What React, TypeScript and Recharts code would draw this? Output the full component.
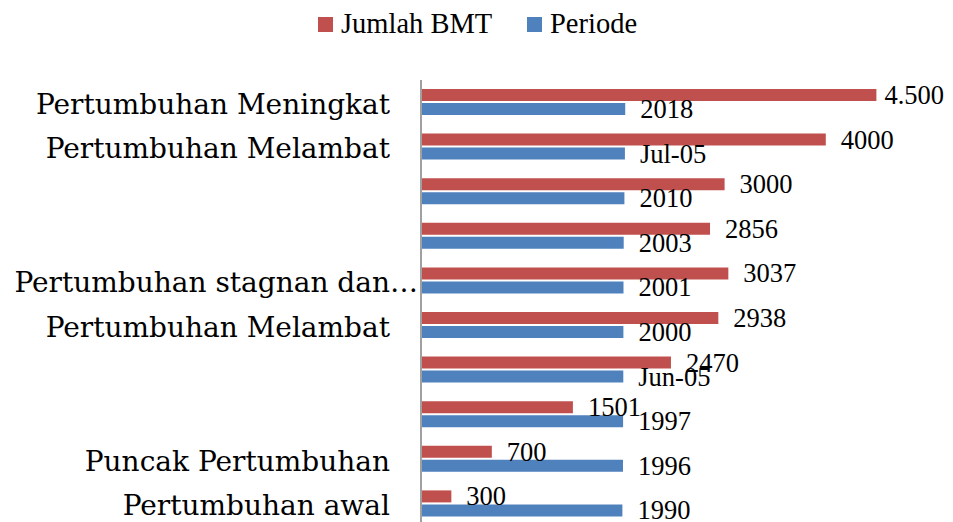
import { BarChart, Bar, XAxis, YAxis, LabelList } from 'recharts';

// rows top to bottom, as they appear in the picture
const categories = [
  'Pertumbuhan Meningkat',
  'Pertumbuhan Melambat',
  '',
  '',
  'Pertumbuhan stagnan dan…',
  'Pertumbuhan Melambat',
  '',
  '',
  'Puncak Pertumbuhan',
  'Pertumbuhan awal',
];

const jumlahBmt = [4500, 4000, 3000, 2856, 3037, 2938, 2470, 1501, 700, 300];
const jumlahBmtLabels = ['4.500', '4000', '3000', '2856', '3037', '2938', '2470', '1501', '700', '300'];

const periode = [2018, 2015, 2010, 2003, 2001, 2000, 1999, 1997, 1996, 1990];
const periodeLabels = ['2018', 'Jul-05', '2010', '2003', '2001', '2000', 'Jun-05', '1997', '1996', '1990'];

const RED = '#C0504D';
const BLUE = '#4F81BD';
const LABEL_FONT = "'Liberation Serif', 'Times New Roman', serif";
const CAT_FONT = "'DejaVu Serif', serif";

const data = categories.map((name, i) => ({
  key: `c${i}`,
  name,
  bmt: jumlahBmt[i],
  periode: periode[i],
}));

const CategoryTick = ({ x, y, payload }: any) => {
  const idx = Number(String(payload.value).slice(1));
  const label = categories[idx];
  if (!label) return null;
  // Excel lets the truncated label run up to the axis
  const tx = label.endsWith('…') ? x - 3 : x - 31;
  return (
    <text
      x={tx}
      y={y + 2}
      textAnchor="end"
      dominantBaseline="central"
      style={{ fontFamily: CAT_FONT, fontSize: 28 }}
      fill="#000"
    >
      {label}
    </text>
  );
};

const valueLabel = (labels: string[]) => (props: any) => {
  const { x, y, width, height, index } = props;
  const text = labels[index];
  let lx = x + width + 15;
  let anchor: 'start' | 'end' = 'start';
  // keep the label inside the chart when it would run past the edge
  if (lx + text.length * 13 > 945) {
    lx = 944;
    anchor = 'end';
  }
  return (
    <text
      x={lx}
      y={y + height / 2}
      textAnchor={anchor}
      dominantBaseline="central"
      style={{ fontFamily: LABEL_FONT, fontSize: 26.5 }}
      fill="#000"
    >
      {text}
    </text>
  );
};

export default function App() {
  return (
    <div
      style={{
        position: 'fixed',
        left: 0,
        top: 0,
        width: 953,
        height: 522,
        overflow: 'hidden',
        background: '#fff',
      }}
    >
      <BarChart
        width={953}
        height={526}
        data={data}
        layout="vertical"
        margin={{ top: 80, right: 26, bottom: 0, left: 0 }}
        barGap={2}
      >
        <XAxis type="number" domain={[0, 5000]} hide />
        <YAxis
          type="category"
          dataKey="key"
          width={421}
          tickLine={false}
          tickSize={0}
          tickMargin={0}
          axisLine={{ stroke: '#A0A0A0', strokeWidth: 2 }}
          tick={<CategoryTick />}
          interval={0}
        />
        <Bar dataKey="bmt" name="Jumlah BMT" fill={RED} barSize={12} isAnimationActive={false}>
          <LabelList dataKey="bmt" content={valueLabel(jumlahBmtLabels)} />
        </Bar>
        <Bar dataKey="periode" name="Periode" fill={BLUE} barSize={12} isAnimationActive={false}>
          <LabelList dataKey="periode" content={valueLabel(periodeLabels)} />
        </Bar>
      </BarChart>

      {/* legend */}
      <svg
        width={953}
        height={50}
        style={{ position: 'absolute', left: 0, top: 0 }}
      >
        <rect x={318} y={17} width={15} height={15} fill={RED} />
        <text x={341} y={33} style={{ fontFamily: LABEL_FONT, fontSize: 28.5 }} fill="#000">
          Jumlah BMT
        </text>
        <rect x={527} y={17} width={15} height={15} fill={BLUE} />
        <text x={550} y={33} style={{ fontFamily: LABEL_FONT, fontSize: 28.5 }} fill="#000">
          Periode
        </text>
      </svg>
    </div>
  );
}
